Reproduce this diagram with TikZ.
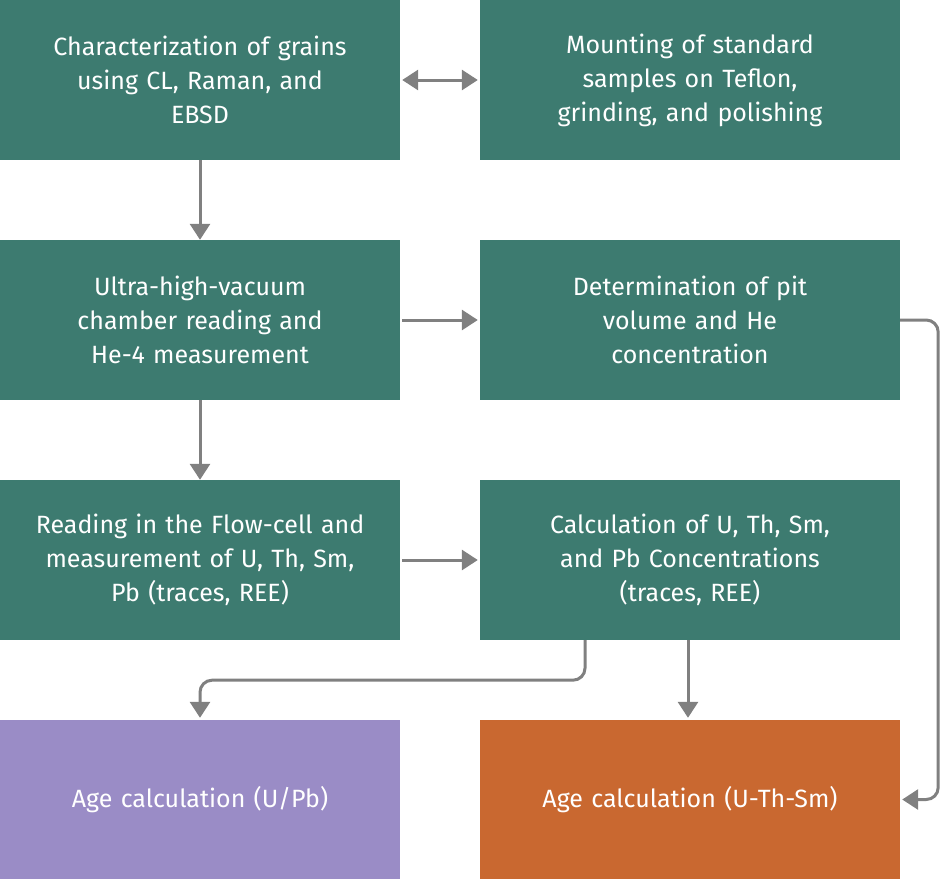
\documentclass[tikz,border=0pt]{standalone}
\usepackage{fontspec}
\setmainfont{Fira Sans}
\usetikzlibrary{arrows.meta,positioning}
\definecolor{stepteal}{HTML}{3D7B70}
\definecolor{steppurple}{HTML}{9A8CC6}
\definecolor{steporange}{HTML}{C96830}
\definecolor{flowgrey}{HTML}{808080}
\tikzset{
  stepbox/.style={fill=stepteal, text=white, minimum width=400pt, minimum height=160pt,
    text width=380pt, align=center, inner sep=0pt, font=\fontsize{25}{34}\selectfont},
  flow/.style={draw=flowgrey, line width=3pt, rounded corners=12pt,
    -{Triangle[length=16pt,width=20pt]}},
}
\begin{document}
\begin{tikzpicture}[x=1pt,y=1pt]
  \useasboundingbox (0,0) rectangle (941,-879);
  \node[stepbox] (grains) at (200,-80) {Characterization of grains\\using CL, Raman, and\\EBSD};
  \node[stepbox, minimum width=420pt] (mount) at (690,-80) {Mounting of standard\\samples on Teflon,\\grinding, and polishing};
  \node[stepbox] (vacuum) at (200,-320) {Ultra-high-vacuum\\chamber reading and\\He-4 measurement};
  \node[stepbox, minimum width=420pt] (pit) at (690,-320) {Determination of pit\\volume and He\\concentration};
  \node[stepbox] (flowcell) at (200,-560) {Reading in the Flow-cell and\\measurement of U, Th, Sm,\\Pb (traces, REE)};
  \node[stepbox, minimum width=420pt] (conc) at (690,-560) {Calculation of U, Th, Sm,\\and Pb Concentrations\\(traces, REE)};
  \node[stepbox, fill=steppurple, minimum height=159pt] (agepb) at (200,-799.5) {Age calculation (U/Pb)};
  \node[stepbox, fill=steporange, minimum width=420pt, minimum height=159pt] (agehe) at (690,-799.5) {Age calculation (U-Th-Sm)};

  \draw[flow, {Triangle[length=16pt,width=20pt]}-{Triangle[length=16pt,width=20pt]}]
    ([xshift=2pt]grains.east) -- ([xshift=-2pt]mount.west);
  \draw[flow] (grains) -- (vacuum);
  \draw[flow] ([xshift=2pt]vacuum.east) -- ([xshift=-2pt]pit.west);
  \draw[flow] (vacuum) -- (flowcell);
  \draw[flow] ([xshift=2pt]flowcell.east) -- ([xshift=-2pt]conc.west);
  \draw[flow] (pit.east) -- ++(38,0) |- ([xshift=2pt]agehe.east);
  \draw[flow] ([xshift=-105pt]conc.south) -- ++(0,-40) -| ([yshift=2pt]agepb.north);
  \draw[flow] ([xshift=-2pt]conc.south) -- ([xshift=-2pt,yshift=2pt]agehe.north);
\end{tikzpicture}
\end{document}
